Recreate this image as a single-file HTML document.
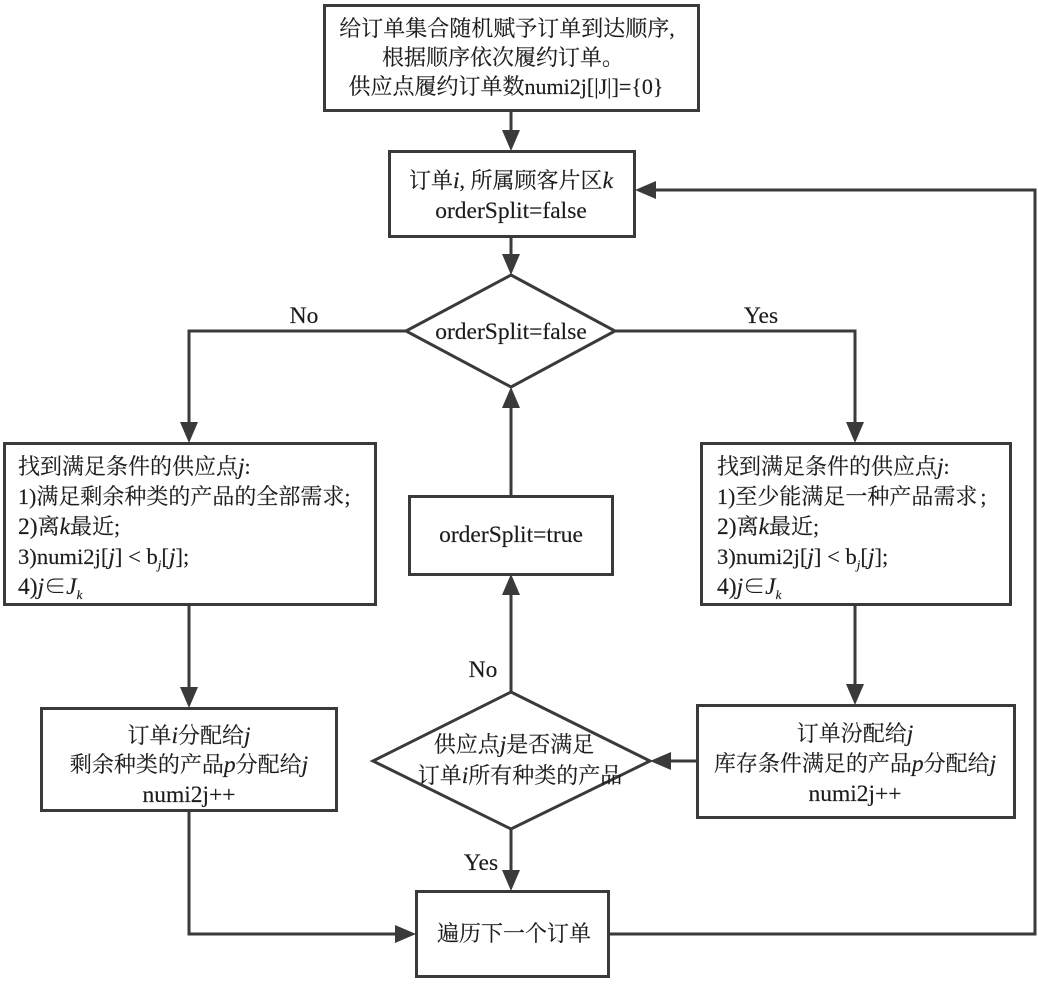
<!DOCTYPE html>
<html><head><meta charset="utf-8"><style>
html,body{margin:0;padding:0;background:#fff}
svg{display:block;filter:blur(.35px)}
text{font-family:"Liberation Serif","Noto Serif CJK SC",serif;font-size:22px;fill:#1c1c1c;stroke:#1c1c1c;stroke-width:.15}
tspan.L{font-size:23.5px}
tspan.N{font-size:22.6px}
.i{font-style:italic;font-size:23.5px}
.s{font-size:13px;font-style:italic}
.m{text-anchor:middle}
.b{fill:#fff;stroke:#3a3a3a;stroke-width:3}
.l{fill:none;stroke:#3a3a3a;stroke-width:3}
.a{fill:#3a3a3a}
</style></head><body>
<svg width="1038" height="986" viewBox="0 0 1038 986" xmlns="http://www.w3.org/2000/svg">
<rect class="b" x="324.500" y="5.500" width="374" height="105"/>
<rect class="b" x="389.500" y="151.500" width="245" height="85"/>
<polygon class="b" points="511,275 615,331 511,387 406,331"/>
<rect class="b" x="4.500" y="443.500" width="371" height="161"/>
<rect class="b" x="701.500" y="443.500" width="309" height="161"/>
<rect class="b" x="409.500" y="496.500" width="203" height="78"/>
<rect class="b" x="41.500" y="708.500" width="295" height="102"/>
<rect class="b" x="697.500" y="705.500" width="317" height="112"/>
<polygon class="b" points="511,692 650,761 511,829 373,761"/>
<rect class="b" x="416.500" y="891.500" width="192" height="85"/>

<path class="l" d="M511 110V132M511 236V256M406 331H189V424M615 331H855V424M189 604V689M855 604V686M511 692V593M511 496V406M697 761H669M511 829V872M189 810V934H397M608 934H1035V190H654"/>
<polygon class="a" points="502,130 520,130 511,151"/>
<polygon class="a" points="502,254 520,254 511,275"/>
<polygon class="a" points="180,422 198,422 189,443"/>
<polygon class="a" points="846,422 864,422 855,443"/>
<polygon class="a" points="180,687 198,687 189,708"/>
<polygon class="a" points="846,684 864,684 855,705"/>
<polygon class="a" points="502,595 520,595 511,574"/>
<polygon class="a" points="502,408 520,408 511,387"/>
<polygon class="a" points="671,752 671,770 650,761"/>
<polygon class="a" points="502,870 520,870 511,891"/>
<polygon class="a" points="395,925 395,943 416,934"/>
<polygon class="a" points="656,181 656,199 635,190"/>

<text class="m" x="507" y="36">给订单集合随机赋予订单到达顺序,</text>
<text class="m" x="503" y="65">根据顺序依次履约订单。</text>
<text class="m" x="506" y="94">供应点履约订单数numi2j[|J|]={0}</text>
<text class="m" x="511" y="188">订单<tspan class="i">i</tspan>, 所属顾客片区<tspan class="i">k</tspan></text>
<text class="m" x="511" y="218"><tspan class="L">orderSplit=false</tspan></text>
<text class="m" x="511" y="339"><tspan class="L">orderSplit=false</tspan></text>
<text class="m" x="304" y="323"><tspan class="L">No</tspan></text>
<text class="m" x="761" y="323"><tspan class="L">Yes</tspan></text>

<text x="18" y="474">找到满足条件的供应点<tspan class="i">j</tspan>:</text>
<text x="18" y="504">1)满足剩余种类的产品的全部需求;</text>
<text x="18" y="534"><tspan class="L">2)</tspan>离<tspan class="i">k</tspan>最近;</text>
<text x="18" y="564"><tspan class="N">3)numi2j[</tspan><tspan class="i">j</tspan><tspan class="N">] &lt; b</tspan><tspan class="s" dy="5">j</tspan><tspan class="N" dy="-5">[</tspan><tspan class="i">j</tspan><tspan class="N">];</tspan></text>
<text x="18" y="594"><tspan class="L">4)</tspan><tspan class="i">j</tspan>∈<tspan class="i">J</tspan><tspan class="s" dy="5">k</tspan></text>

<text x="717" y="474">找到满足条件的供应点<tspan class="i">j</tspan>:</text>
<text x="717" y="504">1)至少能满足一种产品需求<tspan dx="3">;</tspan></text>
<text x="717" y="534"><tspan class="L">2)</tspan>离<tspan class="i">k</tspan>最近;</text>
<text x="717" y="564"><tspan class="N">3)numi2j[</tspan><tspan class="i">j</tspan><tspan class="N">] &lt; b</tspan><tspan class="s" dy="5">j</tspan><tspan class="N" dy="-5">[</tspan><tspan class="i">j</tspan><tspan class="N">];</tspan></text>
<text x="717" y="594"><tspan class="L">4)</tspan><tspan class="i">j</tspan>∈<tspan class="i">J</tspan><tspan class="s" dy="5">k</tspan></text>

<text class="m" x="511" y="542"><tspan class="L">orderSplit=true</tspan></text>
<text class="m" x="483" y="677"><tspan class="L">No</tspan></text>
<text class="m" x="481" y="870"><tspan class="L">Yes</tspan></text>

<text class="m" x="189" y="743">订单<tspan class="i">i</tspan>分配给<tspan class="i">j</tspan></text>
<text class="m" x="189" y="772">剩余种类的产品<tspan class="i">p</tspan>分配给<tspan class="i">j</tspan></text>
<text class="m" x="189" y="802"><tspan class="L">numi2j++</tspan></text>

<text class="m" x="855" y="741">订单汾配给<tspan class="i">j</tspan></text>
<text class="m" x="855" y="771">库存条件满足的产品<tspan class="i">p</tspan>分配给<tspan class="i">j</tspan></text>
<text class="m" x="855" y="801"><tspan class="L">numi2j++</tspan></text>

<text class="m" x="514" y="752">供应点<tspan class="i">j</tspan>是否满足</text>
<text class="m" x="520" y="783">订单<tspan class="i">i</tspan>所有种类的产品</text>

<text class="m" x="514" y="941">遍历下一个订单</text>
</svg>
</body></html>
